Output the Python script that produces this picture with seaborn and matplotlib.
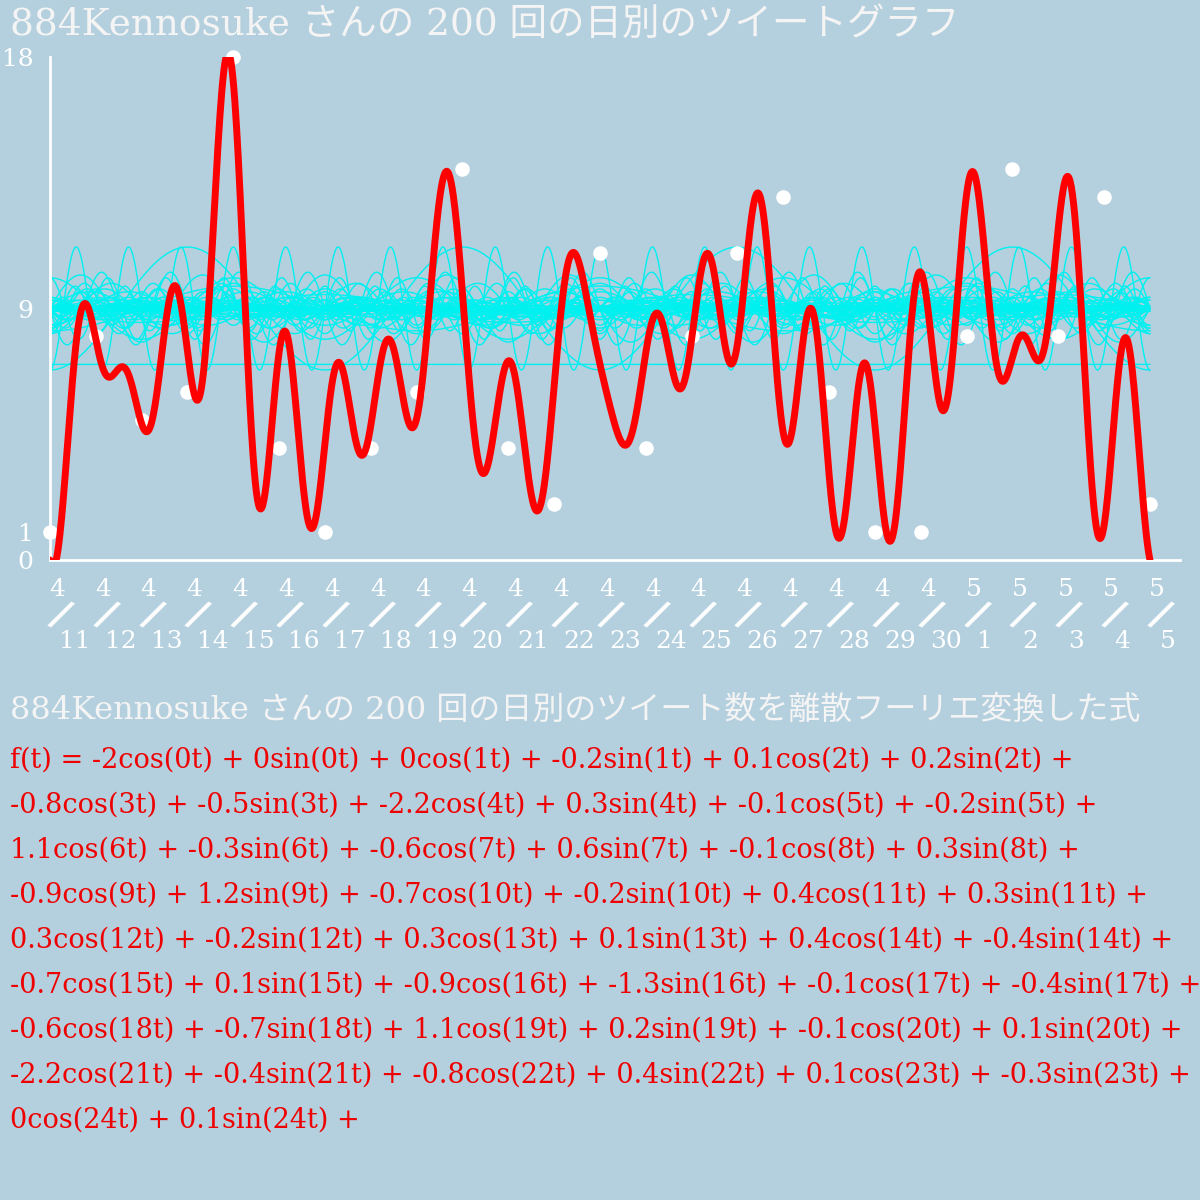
import numpy as np
import pandas as pd
import matplotlib
matplotlib.use("Agg")
import matplotlib.pyplot as plt
import seaborn as sns

sns.set_theme(style="white")
FAM = ['DejaVu Serif', 'Noto Sans CJK JP', 'DejaVu Sans']
plt.rcParams['font.family'] = FAM

BG = '#b4d0de'
title = "884Kennosuke さんの 200 回の日別のツイートグラフ"
heading = "884Kennosuke さんの 200 回の日別のツイート数を離散フーリエ変換した式"
months = [4]*20 + [5]*5
days = list(range(11, 31)) + [1, 2, 3, 4, 5]
counts = [1, 8, 5, 6, 18, 4, 1, 4, 6, 14, 4, 2, 11, 4, 8, 11, 13, 6, 1, 1, 8, 14, 8, 13, 2]
a = [-2, 0, 0.1, -0.8, -2.2, -0.1, 1.1, -0.6, -0.1, -0.9, -0.7, 0.4, 0.3, 0.3, 0.4,
     -0.7, -0.9, -0.1, -0.6, 1.1, -0.1, -2.2, -0.8, 0.1, 0]
b = [0, -0.2, 0.2, -0.5, 0.3, -0.2, -0.3, 0.6, 0.3, 1.2, -0.2, 0.3, -0.2, 0.1, -0.4,
     0.1, -1.3, -0.4, -0.7, 0.2, 0.1, -0.4, 0.4, -0.3, 0.1]
yticks = [0, 1, 9, 18]
center = 9

fig = plt.figure(figsize=(12, 12), dpi=100, facecolor=BG)
ax = fig.add_axes([50/1200, 1-560/1200, 1130/1200, 503/1200])
ax.set_facecolor(BG)

n = len(counts)
xc = np.linspace(0, n-1, 2000)
t = 2*np.pi*xc/(n-1)
for k in range(len(a)):
    ax.plot(xc, center + a[k]*np.cos(k*t), color='#00f0f0', lw=1, zorder=1)
    ax.plot(xc, center + b[k]*np.sin(k*t), color='#00f0f0', lw=1, zorder=1)
f = center + sum(a[k]*np.cos(k*t) + b[k]*np.sin(k*t) for k in range(len(a)))

df = pd.DataFrame({'x': np.arange(n), 'y': counts})
sns.scatterplot(data=df, x='x', y='y', ax=ax, color='white', s=110, linewidth=0, zorder=2, clip_on=False)
sns.lineplot(x=xc, y=f, ax=ax, color='red', lw=5, zorder=3)

ax.set_xlim(0, n-1 + 30/45.83)
ax.set_ylim(0, 18)
for s in ['top', 'right']:
    ax.spines[s].set_visible(False)
for s in ['left', 'bottom']:
    ax.spines[s].set_color('white'); ax.spines[s].set_linewidth(2)
ax.set_xlabel(''); ax.set_ylabel('')
ax.set_yticks(yticks)
ax.set_yticklabels([str(v) for v in yticks], color='white', fontsize=18)
ax.tick_params(axis='y', length=0, pad=12)
ax.set_xticks(range(n))
ax.set_xticklabels([''] * n)
ax.tick_params(axis='x', length=0)
for i, (m, d) in enumerate(zip(months, days)):
    ax.annotate(str(m), (i, 0), xytext=(7, -30), textcoords='offset pixels',
                ha='center', va='center', color='white', fontsize=18, annotation_clip=False)
    ax.annotate('/', (i, 0), xytext=(10, -56), textcoords='offset pixels',
                ha='center', va='center', color='white', fontsize=28, rotation=-28,
                fontweight='bold', annotation_clip=False)
    ax.annotate(str(d), (i, 0), xytext=(25 if d > 9 else 18, -82), textcoords='offset pixels',
                ha='center', va='center', color='white', fontsize=18, annotation_clip=False)

fig.text(10/1200, 1-25/1200, title, color='#f4f4f4', fontsize=27, va='center', ha='left')
fig.text(10/1200, 1-710/1200, heading, color='#f4f4f4', fontsize=23, va='center', ha='left')

def fmt(v):
    return ('%g' % v)
lines = []
for start in range(0, len(a), 3):
    s = "f(t) = " if start == 0 else ""
    for k in range(start, min(start+3, len(a))):
        s += f"{fmt(a[k])}cos({k}t) + {fmt(b[k])}sin({k}t) + "
    lines.append(s.rstrip())
for j, line in enumerate(lines):
    fig.text(10/1200, 1-(760+45*j)/1200, line, color='#ee0000', fontsize=19.5, va='center', ha='left')

fig.savefig('out.png', dpi=100, facecolor=BG)
